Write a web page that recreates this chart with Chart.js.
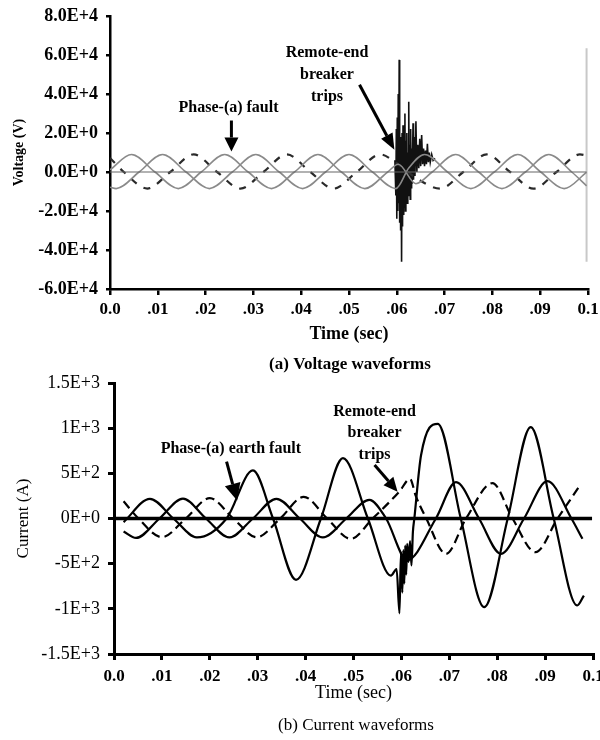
<!DOCTYPE html>
<html>
<head>
<meta charset="utf-8">
<script src="https://cdn.jsdelivr.net/npm/chart.js@4"></script>
<style>
  html, body { margin: 0; padding: 0; background: #fff; }
  .wrap { position: relative; width: 600px; height: 740px; }
  #cv { position: absolute; left: 0; top: 0; }
  #ci { position: absolute; left: 0; top: 370px; }
  canvas { display: block; }
</style>
</head>
<body>
<div class="wrap">
<canvas id="cv" width="600" height="380"></canvas>
<canvas id="ci" width="600" height="370"></canvas>
</div>
<script>
// ---------------- DATA: (a) Voltage waveforms ----------------
const vTickLabels = ['-6.0E+4', '-4.0E+4', '-2.0E+4', '0.0E+0', '2.0E+0', '4.0E+4', '6.0E+4', '8.0E+4'];
const xTickLabels = ['0.0', '.01', '.02', '.03', '.04', '.05', '.06', '.07', '.08', '.09', '0.1'];

// gray solid phase 1
const vTimeA = [0, .0045, .0094, .0143, .0191, .0240, .0289, .0338, .0386, .0435, .0484, .0533, .0581, .0603, .0640, .0674, .0723, .0771, .0820, .0869, .0918, .0966, .0997];
const vValA  = [1100, 9000, 0, -8500, 0, 9000, 0, -8500, 0, 9000, 0, -8500, 0, 4000, -6000, 0, 9000, 0, -8500, 0, 9000, 0, -7100];
// gray solid phase 2
const vTimeB = [0, .0013, .0061, .0110, .0159, .0208, .0256, .0305, .0354, .0403, .0451, .0500, .0549, .0598, .0625, .0658, .0706, .0755, .0804, .0853, .0901, .0950, .0997];
const vValB  = [-7800, -8500, 0, 9000, 0, -8500, 0, 9000, 0, -8500, 0, 9000, 0, -8500, 2000, 9000, 0, -8500, 0, 9000, 0, -8500, -200];
// dark dashed phase 3
const vTimeC = [0, .0029, .0078, .0126, .0175, .0224, .0273, .0321, .0370, .0419, .0468, .0516, .0565, .0600, .0640, .0691, .0739, .0788, .0837, .0886, .0934, .0983, .0997];
const vValC  = [7200, 0, -8500, 0, 9000, 0, -8500, 0, 9000, 0, -8500, 0, 9000, 4500, -3000, -8500, 0, 9000, 0, -8500, 0, 9000, 8500];
// breaker-trip transient
const vTransT = [.0596, .0598, .0599, .0600, .0601, .0602, .0603, .0604, .0605, .0606, .0607, .0608, .0609, .0610, .0611, .0612, .0613, .0614, .0615, .0616, .0617, .0618, .0619, .0620, .0621, .0622, .0623, .0624, .0625, .0626, .0627, .0628, .0629, .0630, .0631, .0632, .0634, .0635, .0637, .0638, .0640, .0642, .0644, .0646, .0648, .0650, .0652, .0654, .0656, .0658, .0660, .0662, .0664, .0666, .0668, .0670, .0673, .0676, .0680];
const vTransV = [6000, -12000, 22000, -24000, 28000, -20000, 40000, -16000, 57500, -26000, 18000, -30000, 15000, -46000, 20000, -28000, 24000, -22000, 12000, -18000, 30000, -20000, 16000, -14000, 20000, -16000, 10000, -12000, 36000, -10000, 14000, -14000, 22000, -8000, 12000, -6000, 25000, -4000, 18000, -2000, 26000, 0, 14000, 2000, 17000, 3000, 19000, 4000, 12000, 3000, 11000, 4000, 14500, 5000, 10000, 5000, 9000, 6000, 7000];
// light vertical trace at the end of the record
const vEndT = [.0997, .0997];
const vEndV = [63400, -46000];
// zero reference
const vZeroT = [0, .0997];
const vZeroV = [0, 0];

// ---------------- DATA: (b) Current waveforms ----------------
const iTickLabels = ['-1.5E+3', '-1E+3', '-5E+2', '0E+0', '5E+2', '1E+3', '1.5E+3'];
// solid phase (a) - faulted
const iTimeA = [.002, .0075, .0124, .0173, .0235, .0290, .0332, .0380, .0432, .0478, .0530, .0578, .0590, .0596, .0599, .0602, .0604, .0606, .0608, .0610, .0612, .0615, .0618, .0621, .0624, .0627, .0641, .0676, .0724, .0773, .0822, .0870, .0918, .0967, .0981];
const iValA  = [-40, 218, 0, -210, 0, 532, 0, -679, 0, 668, 0, -632, -560, -1050, -380, -820, -350, -720, -300, -620, -280, -480, -250, -520, -150, 0, 700, 1048, 0, -982, 0, 1011, 0, -963, -853];
// solid phase (b)
const iTimeB = [.002, .0046, .0095, .0144, .0192, .0241, .0290, .0339, .0388, .0436, .0485, .0533, .0568, .0612, .0672, .0714, .0762, .0808, .0856, .0905, .0955, .0978];
const iValB  = [-144, -215, 0, 220, 0, -210, 0, 218, 0, -210, 0, 207, 0, -460, 0, 402, 0, -391, 0, 413, 0, -225];
// dashed phase (c)
const iTimeC = [.002, .0051, .0100, .0150, .0200, .0249, .0298, .0347, .0396, .0445, .0494, .0540, .0596, .0618, .0630, .0652, .0693, .0735, .0790, .0832, .0880, .0926, .0972];
const iValC  = [190, 0, -207, 0, 225, 0, -207, 0, 240, 0, -225, 0, 300, 440, 250, 0, -391, 0, 391, 0, -373, 0, 360];
// zero reference
const iZeroT = [0, .0998];
const iZeroV = [0, 0];

// ---------------- helpers ----------------
const pts = (t, v) => t.map((x, i) => ({ x: x, y: v[i] }));
const SERIF = '"Liberation Serif", "Times New Roman", serif';

const annotPlugin = {
  id: 'annot',
  afterDraw(chart, args, opts) {
    const ctx = chart.ctx, xs = chart.scales.x, ys = chart.scales.y;
    ctx.save();
    ctx.fillStyle = '#000';
    ctx.strokeStyle = '#000';
    ctx.textAlign = 'center';
    ctx.textBaseline = 'middle';
    (opts.texts || []).forEach(t => {
      ctx.font = t.font;
      ctx.fillText(t.text, xs.getPixelForValue(t.x), ys.getPixelForValue(t.y));
    });
    (opts.arrows || []).forEach(a => {
      const x1 = xs.getPixelForValue(a.x1), y1 = ys.getPixelForValue(a.y1);
      const x2 = xs.getPixelForValue(a.x2), y2 = ys.getPixelForValue(a.y2);
      const ang = Math.atan2(y2 - y1, x2 - x1);
      const bx = x2 - a.head * Math.cos(ang), by = y2 - a.head * Math.sin(ang);
      ctx.lineWidth = a.width;
      ctx.beginPath(); ctx.moveTo(x1, y1); ctx.lineTo(bx, by); ctx.stroke();
      ctx.beginPath();
      ctx.moveTo(x2, y2);
      ctx.lineTo(bx + a.half * Math.sin(ang), by - a.half * Math.cos(ang));
      ctx.lineTo(bx - a.half * Math.sin(ang), by + a.half * Math.cos(ang));
      ctx.closePath(); ctx.fill();
    });
    if (opts.caption) {
      const c = opts.caption;
      ctx.font = c.font;
      ctx.fillText(c.text, chart.chartArea.left + c.dx, chart.chartArea.bottom + c.dy);
    }
    ctx.restore();
  }
};

function xAxis(h, tickFont, pad, titleFont, border) {
  return {
    type: 'linear', min: 0, max: 0.1,
    afterFit: s => { s.height = h; s.paddingLeft = 0; s.paddingRight = 0; },
    ticks: {
      stepSize: 0.01, autoSkip: false, maxRotation: 0, minRotation: 0,
      color: '#000', font: tickFont, padding: pad,
      callback: (v, i) => xTickLabels[i]
    },
    grid: { drawOnChartArea: false, drawTicks: true, tickLength: 6, color: '#000', lineWidth: border },
    border: { display: true, color: '#000', width: border },
    title: { display: true, text: 'Time (sec)', color: '#000', font: titleFont, padding: { top: 0, bottom: 0 } }
  };
}

// ---------------- chart (a) ----------------
new Chart(document.getElementById('cv'), {
  type: 'scatter',
  data: {
    datasets: [
      { data: pts(vZeroT, vZeroV), showLine: true, borderColor: '#666', borderWidth: 1.2, pointRadius: 0, tension: 0 },
      { data: pts(vTimeA, vValA), showLine: true, borderColor: '#8a8a8a', borderWidth: 1.6, pointRadius: 0, cubicInterpolationMode: 'monotone' },
      { data: pts(vTimeB, vValB), showLine: true, borderColor: '#8a8a8a', borderWidth: 1.6, pointRadius: 0, cubicInterpolationMode: 'monotone' },
      { data: pts(vTimeC, vValC), showLine: true, borderColor: '#2a2a2a', borderWidth: 2.2, borderDash: [7, 8], pointRadius: 0, cubicInterpolationMode: 'monotone' },
      { data: pts(vTransT, vTransV), showLine: true, borderColor: '#111', borderWidth: 1.6, pointRadius: 0, tension: 0 },
      { data: pts(vEndT, vEndV), showLine: true, borderColor: '#c8c8c8', borderWidth: 2, pointRadius: 0, tension: 0 }
    ]
  },
  options: {
    responsive: false, animation: false, devicePixelRatio: 1,
    layout: { padding: { top: 16, right: 12, bottom: 37, left: 0 } },
    plugins: {
      legend: { display: false }, tooltip: { enabled: false },
      annot: {
        texts: [
          { text: 'Phase-(a) fault', x: .0248, y: 32700, font: 'bold 16px ' + SERIF },
          { text: 'Remote-end', x: .0454, y: 60900, font: 'bold 16px ' + SERIF },
          { text: 'breaker', x: .0454, y: 49800, font: 'bold 16px ' + SERIF },
          { text: 'trips', x: .0454, y: 38700, font: 'bold 16px ' + SERIF }
        ],
        arrows: [
          { x1: .0254, y1: 26400, x2: .0254, y2: 10500, width: 3, head: 14, half: 7 },
          { x1: .0522, y1: 44700, x2: .0595, y2: 11400, width: 3, head: 16, half: 6.5 }
        ],
        caption: { text: '(a) Voltage waveforms', font: 'bold 17px ' + SERIF, dx: 240, dy: 76 }
      }
    },
    scales: {
      x: xAxis(54, { family: SERIF, size: 17, weight: 'bold' }, 4, { family: SERIF, size: 18, weight: 'bold', lineHeight: 1 }, 2.5),
      y: {
        type: 'linear', min: -60000, max: 80000,
        afterFit: s => { s.width = 110; s.paddingTop = 0; s.paddingBottom = 0; },
        ticks: { stepSize: 20000, color: '#000', font: { family: SERIF, size: 18, weight: 'bold' }, padding: 8, callback: (v, i) => vTickLabels[i] },
        grid: { drawOnChartArea: false, drawTicks: true, tickLength: 4, color: '#000', lineWidth: 2.5 },
        border: { display: true, color: '#000', width: 2.5 },
        title: { display: true, text: 'Voltage (V)', color: '#000', font: { family: SERIF, size: 14, weight: 'bold', lineHeight: 1.2 }, padding: { top: 11, bottom: 0 } }
      }
    }
  },
  plugins: [annotPlugin]
});

// ---------------- chart (b) ----------------
new Chart(document.getElementById('ci'), {
  type: 'scatter',
  data: {
    datasets: [
      { data: pts(iZeroT, iZeroV), showLine: true, borderColor: '#000', borderWidth: 3.5, pointRadius: 0, tension: 0 },
      { data: pts(iTimeA, iValA), showLine: true, borderColor: '#000', borderWidth: 2.2, pointRadius: 0, cubicInterpolationMode: 'monotone' },
      { data: pts(iTimeB, iValB), showLine: true, borderColor: '#000', borderWidth: 2.2, pointRadius: 0, cubicInterpolationMode: 'monotone' },
      { data: pts(iTimeC, iValC), showLine: true, borderColor: '#000', borderWidth: 2.2, borderDash: [9, 5], pointRadius: 0, cubicInterpolationMode: 'monotone' }
    ]
  },
  options: {
    responsive: false, animation: false, devicePixelRatio: 1,
    layout: { padding: { top: 13, right: 7, bottom: 38, left: 0 } },
    plugins: {
      legend: { display: false }, tooltip: { enabled: false },
      annot: {
        texts: [
          { text: 'Phase-(a) earth fault', x: .0244, y: 770, font: 'bold 16px ' + SERIF },
          { text: 'Remote-end', x: .0544, y: 1179, font: 'bold 16px ' + SERIF },
          { text: 'breaker', x: .0544, y: 947, font: 'bold 16px ' + SERIF },
          { text: 'trips', x: .0544, y: 710, font: 'bold 16px ' + SERIF }
        ],
        arrows: [
          { x1: .0235, y1: 629, x2: .0257, y2: 200, width: 3, head: 17, half: 8 },
          { x1: .0544, y1: 592, x2: .0592, y2: 297, width: 3, head: 14, half: 6.5 }
        ],
        caption: { text: '(b) Current waveforms', font: '17px ' + SERIF, dx: 242, dy: 72 }
      }
    },
    scales: {
      x: xAxis(48, { family: SERIF, size: 17, weight: 'bold' }, 6, { family: SERIF, size: 18, lineHeight: 1 }, 3),
      y: {
        type: 'linear', min: -1500, max: 1500,
        afterFit: s => { s.width = 114; s.paddingTop = 0; s.paddingBottom = 0; },
        ticks: { stepSize: 500, color: '#000', font: { family: SERIF, size: 18 }, padding: 8, callback: (v, i) => iTickLabels[i] },
        grid: { drawOnChartArea: false, drawTicks: true, tickLength: 6, color: '#000', lineWidth: 3 },
        border: { display: true, color: '#000', width: 3 },
        title: { display: true, text: 'Current (A)', color: '#000', font: { family: SERIF, size: 17, lineHeight: 1.2 }, padding: { top: 13, bottom: 0 } }
      }
    }
  },
  plugins: [annotPlugin]
});
</script>
</body>
</html>
